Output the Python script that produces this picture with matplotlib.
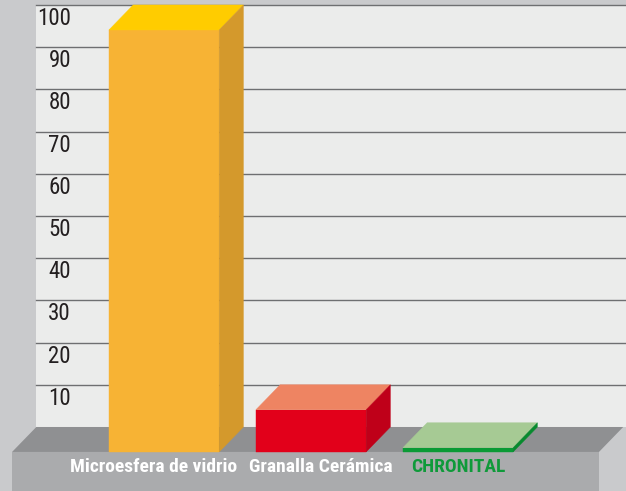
import numpy as np
import matplotlib
matplotlib.use("Agg")
import matplotlib.pyplot as plt

# ── data ─────────────────────────────────────────────────────────────────────

categories = ["Microesfera de vidrio", "Granalla Cerámica", "CHRONITAL"]
values = [100, 10, 1]
yticks = [10, 20, 30, 40, 50, 60, 70, 80, 90, 100]

# ── style ────────────────────────────────────────────────────────────────────

FRONT = ["#f7b334", "#e2001a", "#0a9a35"]
TOP = ["#ffcc00", "#ee8462", "#a6ca94"]
SIDE = ["#d4992c", "#bf0019", "#078a2e"]
LABEL_COLORS = ["white", "white", "#0f9a3a"]
LABEL_SHIFT = [-0.07, 0.07, 0.0]

BG = "#c9cacc"
WALL = "#ebeceb"
FLOOR = "#8f9092"
BASE = "#aaabad"
GRID = "#6e6f71"

FONT = ["Roboto Condensed", "Fira Sans Condensed", "Barlow Condensed", "DejaVu Sans"]

DX = 0.165   # depth offset in category units
DY = 5.92    # depth offset in value units
HALF = 0.375  # half bar width

fig = plt.figure(figsize=(6.26, 4.91), dpi=100, facecolor=BG)
ax = fig.add_axes([0, 0, 1, 1])
ax.set_xlim(-1.116, 3.143)
ax.set_ylim(-15.17, 101.18)
ax.axis("off")

# back wall + grid
wall_left = -1.034 + DX
ax.fill([wall_left, 3.3, 3.3, wall_left], [0, 0, 100, 100], color=WALL, lw=0, zorder=0)
for v in yticks:
    ax.plot([wall_left, 3.3], [v, v], color=GRID, lw=1.0, zorder=1)
    ax.text(-0.633, v - 3.2, str(v), ha="right", va="center", fontsize=16.5,
            color="#231f20", family=FONT, zorder=2)

# floor and front of base
fl, fr = -1.034, 2.959
ax.fill([fl, fr, fr + DX, 3.3, 3.3, fl + DX], [-DY, -DY, 0, 0, 0, 0],
        color=FLOOR, lw=0, zorder=1)
ax.fill([fl, fr, fr, fl], [-DY, -DY, -15.5, -15.5], color=BASE, lw=0, zorder=1)

# 3D bars
for i, v in enumerate(values):
    x0, x1 = i - HALF, i + HALF
    y0, y1 = -DY, v - DY
    ax.fill([x0, x1, x1, x0], [y0, y0, y1, y1], color=FRONT[i], lw=0.3,
            ec=FRONT[i], zorder=3)
    ax.fill([x0, x1, x1 + DX, x0 + DX], [y1, y1, y1 + DY, y1 + DY],
            color=TOP[i], lw=0.3, ec=TOP[i], zorder=3)
    ax.fill([x1, x1 + DX, x1 + DX, x1], [y0, y0 + DY, y1 + DY, y1],
            color=SIDE[i], lw=0.3, ec=SIDE[i], zorder=3)

# category labels
for i, name in enumerate(categories):
    ax.text(i + LABEL_SHIFT[i], -9.5, name, ha="center", va="center", fontsize=14,
            fontweight="bold", color=LABEL_COLORS[i], family=FONT, zorder=4)

fig.savefig("out.png", dpi=100, facecolor=BG)
